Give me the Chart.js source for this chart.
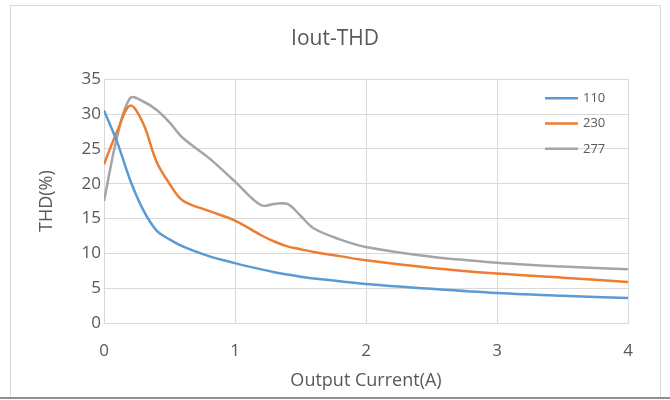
<!DOCTYPE html>
<html>
<head>
<meta charset="utf-8">
<title>Iout-THD</title>
<script src="https://cdn.jsdelivr.net/npm/chart.js@4.4.1/dist/chart.umd.min.js"></script>
<style>
  body { margin: 0; background: #fff; }
  #wrap { position: relative; width: 670px; height: 400px; }
  #wrap canvas { position: absolute; left: 0; top: 0; }
  .frame { position: absolute; left: 10px; top: 5px; width: 649px; height: 392px; border: 1px solid #d9d9d9; border-bottom: none; }
  .bottomline { position: absolute; left: 0; top: 397px; width: 670px; height: 2px; background: #8f8f8f; }
</style>
</head>
<body>
<div id="wrap">
  <div class="frame"></div>
  <div class="bottomline"></div>
  <canvas id="thd" width="670" height="400"></canvas>
</div>
<script>
// output current (A)
const current = [0, 0.1, 0.2, 0.3, 0.4, 0.5, 0.6, 0.8, 1.0, 1.2, 1.3, 1.4, 1.5, 1.6, 1.8, 2.0, 2.5, 3.0, 3.5, 4.0];
// THD (%) per input voltage
const thd110 = [30.5, 26.0, 20.5, 16.2, 13.3, 12.0, 11.0, 9.6, 8.6, 7.7, 7.3, 6.95, 6.65, 6.4, 6.0, 5.6, 4.9, 4.3, 3.9, 3.6];
const thd230 = [22.8, 27.5, 31.2, 28.6, 23.2, 20.0, 17.6, 16.1, 14.7, 12.6, 11.7, 11.0, 10.6, 10.2, 9.6, 9.0, 7.9, 7.1, 6.5, 5.9];
const thd277 = [17.5, 26.7, 32.3, 31.8, 30.6, 28.8, 26.6, 23.7, 20.3, 16.9, 17.1, 17.1, 15.4, 13.6, 12.0, 10.9, 9.5, 8.65, 8.1, 7.7];
const seriesNames = ['110', '230', '277'];
const xTicks = [0, 1, 2, 3, 4];
const yTicks = [0, 5, 10, 15, 20, 25, 30, 35];

const colors = ['#5B9BD5', '#ED7D31', '#A5A5A5'];
const textColor = '#595959';
const gridColor = '#d9d9d9';
const fontFamily = '"Open Sans", "Noto Sans", sans-serif';

function points(ys) {
  return current.map((x, i) => ({ x: x, y: ys[i] }));
}

// legend drawn inside the plot area, top right (like Excel)
const insideLegend = {
  id: 'insideLegend',
  afterDatasetsDraw(chart) {
    const c = chart.ctx;
    const area = chart.chartArea;
    c.save();
    c.font = '13px ' + fontFamily;
    c.textBaseline = 'middle';
    c.textAlign = 'left';
    chart.data.datasets.forEach((ds, i) => {
      const y = area.top + 19 + i * 25.3;
      c.strokeStyle = ds.borderColor;
      c.lineWidth = 2.5;
      c.beginPath();
      c.moveTo(area.right - 83, y);
      c.lineTo(area.right - 50, y);
      c.stroke();
      c.fillStyle = textColor;
      c.fillText(ds.label, area.right - 45, y);
    });
    c.restore();
  }
};

const ctx = document.getElementById('thd').getContext('2d');

new Chart(ctx, {
  type: 'scatter',
  data: {
    datasets: [thd110, thd230, thd277].map((ys, i) => ({
      label: seriesNames[i],
      data: points(ys),
      showLine: true,
      borderColor: colors[i],
      backgroundColor: colors[i],
      borderWidth: 2.5,
      pointRadius: 0,
      tension: 0.35
    }))
  },
  options: {
    responsive: false,
    animation: false,
    layout: { padding: { left: 0, right: 0, top: 0, bottom: 8 } },
    plugins: {
      legend: { display: false },
      tooltip: { enabled: false },
      title: {
        display: true,
        text: 'Iout-THD',
        color: textColor,
        font: { family: fontFamily, size: 21, weight: 'normal' },
        padding: { top: 26, bottom: 28 }
      }
    },
    scales: {
      x: {
        type: 'linear',
        min: 0,
        max: 4,
        afterBuildTicks: s => { s.ticks = xTicks.map(v => ({ value: v })); },
        afterFit: s => { s.height = 69; },
        grid: { color: gridColor, drawTicks: false },
        border: { color: gridColor },
        ticks: { color: textColor, padding: 18, font: { family: fontFamily, size: 17 } },
        title: {
          display: true,
          text: 'Output Current(A)',
          color: textColor,
          font: { family: fontFamily, size: 18 },
          padding: { top: 0, bottom: 0 }
        }
      },
      y: {
        min: 0,
        max: 35,
        afterBuildTicks: s => { s.ticks = yTicks.map(v => ({ value: v })); },
        afterFit: s => { s.width = 104; },
        grid: { color: gridColor, drawTicks: false },
        border: { color: gridColor },
        ticks: { color: textColor, padding: 3, font: { family: fontFamily, size: 17 } },
        title: {
          display: true,
          text: 'THD(%)',
          color: textColor,
          font: { family: fontFamily, size: 18 },
          padding: { top: 36, bottom: 0 }
        }
      },
      // empty right-hand axis only reserves the margin so the title centres on the page
      yRight: {
        position: 'right',
        min: 0,
        max: 35,
        afterFit: s => { s.width = 42; },
        grid: { display: false },
        border: { display: false },
        ticks: { display: false }
      }
    }
  },
  plugins: [insideLegend]
});
</script>
</body>
</html>
